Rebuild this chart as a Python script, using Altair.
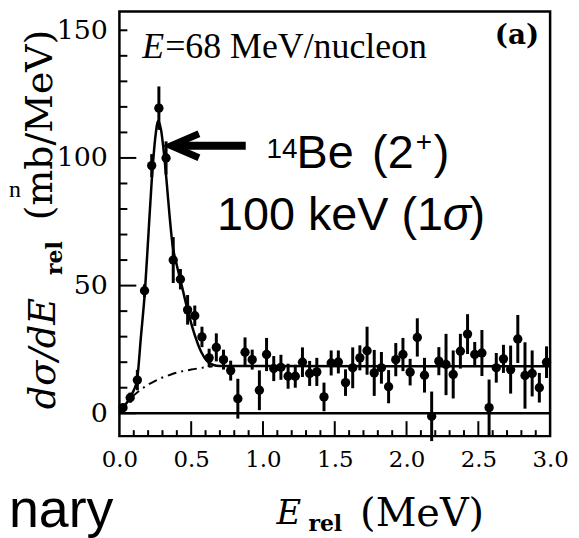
import altair as alt
import pandas as pd

# ---------------- data ----------------
E_pts = [0.025, 0.075, 0.125, 0.175, 0.225, 0.275, 0.325, 0.375, 0.425, 0.475,
         0.525, 0.575, 0.625, 0.675, 0.725, 0.775, 0.825, 0.875, 0.925, 0.975,
         1.025, 1.075, 1.125, 1.175, 1.225, 1.275, 1.325, 1.375, 1.425, 1.475,
         1.525, 1.575, 1.625, 1.675, 1.725, 1.775, 1.825, 1.875, 1.925, 1.975,
         2.025, 2.075, 2.125, 2.175, 2.225, 2.275, 2.325, 2.375, 2.425, 2.475,
         2.525, 2.575, 2.625, 2.675, 2.725, 2.775, 2.825, 2.875, 2.925, 2.975]
v_pts = [2.2, 6.1, 13.0, 48.0, 97.0, 119.5, 100.0, 60.0, 52.5, 40.5,
         38.2, 29.9, 21.7, 25.8, 21.0, 16.7, 5.7, 23.9, 21.0, 9.0,
         23.0, 17.5, 18.0, 14.5, 14.5, 20.0, 15.6, 16.2, 6.4, 19.7,
         20.1, 12.0, 17.8, 21.7, 24.5, 15.8, 17.8, 10.4, 21.0, 23.0,
         16.1, 29.7, 14.9, -1.2, 20.4, 19.1, 15.2, 24.3, 31.0, 23.0,
         23.6, 2.2, 17.8, 21.3, 17.1, 29.1, 14.8, 15.6, 10.0, 20.0]
err = [1.5, 2.0, 4.0, 2.5, 4.5, 8.5, 6.5, 9.0, 4.0, 5.8,
       4.0, 4.0, 3.6, 5.5, 3.9, 3.9, 7.8, 5.8, 3.9, 7.8,
       6.5, 4.9, 4.9, 4.9, 4.5, 5.8, 4.9, 5.5, 5.6, 4.9,
       4.5, 5.2, 8.0, 4.9, 9.4, 9.0, 6.2, 6.5, 6.5, 6.5,
       5.2, 7.5, 6.8, 9.7, 5.5, 12.0, 9.4, 6.8, 7.8, 4.9,
       9.0, 11.0, 5.8, 5.5, 9.4, 9.4, 13.0, 9.0, 5.8, 6.2]

fit_E = [0.0, 0.05, 0.10, 0.123, 0.15, 0.178, 0.20, 0.225, 0.25, 0.27, 0.29,
         0.31, 0.33, 0.35, 0.37, 0.40, 0.43, 0.475, 0.52, 0.57, 0.61, 0.65,
         0.70, 3.0]
fit_v = [0.5, 4.0, 9.0, 13.0, 30.0, 48.0, 68.0, 91.0, 108.0, 114.5, 111.0,
         102.0, 90.0, 77.0, 66.0, 58.0, 51.0, 40.5, 31.5, 24.0, 20.5, 19.0,
         18.5, 18.4]

bg_E = [0.0, 0.05, 0.10, 0.15, 0.20, 0.25, 0.30, 0.35, 0.40, 0.50, 0.60, 0.65]
bg_v = [0.0, 4.0, 7.0, 9.3, 11.2, 12.7, 14.0, 15.0, 15.9, 17.1, 18.0, 18.4]

x_labels = [0.0, 0.5, 1.0, 1.5, 2.0, 2.5, 3.0]
y_labels = [0, 50, 100, 150]
x_major = [0.5, 1.0, 1.5, 2.0, 2.5]
x_minor = [0.1, 0.2, 0.3, 0.4, 0.6, 0.7, 0.8, 0.9, 1.1, 1.2, 1.3, 1.4, 1.6, 1.7,
           1.8, 1.9, 2.1, 2.2, 2.3, 2.4, 2.6, 2.7, 2.8, 2.9]
y_major = [0, 50, 100]
y_minor = [10, 20, 30, 40, 60, 70, 80, 90, 110, 120, 130, 140, 150]

# arrow (data coordinates) pointing at the peak
arrow_shaft_E = [0.40, 0.88]
arrow_v = 104.8
chev_E = [0.554, 0.36, 0.554]
chev_v = [109.5, 104.8, 100.1]

# ---------------- chart ----------------
W, H = 433, 427
xscale = alt.Scale(domain=[0, 3.0], nice=False, zero=False)
yscale = alt.Scale(domain=[-8.96, 157.4], nice=False, zero=False)
xaxis = alt.Axis(values=x_labels, format=".1f", labelFont="DejaVu Serif",
                 labelFontSize=23, labelColor="black", labelPadding=13,
                 ticks=False, domain=False, grid=False, labelFlush=False,
                 labelOverlap=False, labelBound=False, title=None)
yaxis = alt.Axis(values=y_labels, format="d", labelFont="DejaVu Serif",
                 labelFontSize=27, labelColor="black", labelPadding=12,
                 ticks=False, domain=False, grid=False, labelFlush=False,
                 labelOverlap=False, labelBound=False, title=None)


def X(f):
    return alt.X(f, type="quantitative", scale=xscale, axis=xaxis, title=None)


def Y(f):
    return alt.Y(f, type="quantitative", scale=yscale, axis=yaxis, title=None)


pts = pd.DataFrame({"E": E_pts, "v": v_pts, "e": err})
pts["lo"] = pts["v"] - pts["e"]
pts["hi"] = pts["v"] + pts["e"]

errbars = alt.Chart(pts).mark_rule(color="black", strokeWidth=3).encode(
    x=X("E"), y=Y("lo"), y2="hi")
points = alt.Chart(pts).mark_circle(color="black", size=88, opacity=1).encode(
    x=X("E"), y=Y("v"))

fit = alt.Chart(pd.DataFrame({"E": fit_E, "v": fit_v})).mark_line(
    color="black", strokeWidth=2.5, interpolate="monotone").encode(x=X("E"), y=Y("v"))
bg = alt.Chart(pd.DataFrame({"E": bg_E, "v": bg_v})).mark_line(
    color="black", strokeWidth=2, strokeDash=[9, 5, 2, 5],
    interpolate="monotone").encode(x=X("E"), y=Y("v"))

zero = alt.Chart(pd.DataFrame({"E": [0.0], "E2": [3.0], "v": [0]})).mark_rule(
    color="black", strokeWidth=2.5).encode(x=X("E"), x2="E2", y=Y("v"))

xt_major = alt.Chart(pd.DataFrame({"E": x_major})).mark_rule(
    color="black", strokeWidth=2).encode(x=X("E"), y=alt.value(H), y2=alt.value(H - 15))
xt_minor = alt.Chart(pd.DataFrame({"E": x_minor})).mark_rule(
    color="black", strokeWidth=2).encode(x=X("E"), y=alt.value(H), y2=alt.value(H - 6))
yt_major = alt.Chart(pd.DataFrame({"v": y_major})).mark_rule(
    color="black", strokeWidth=2).encode(y=Y("v"), x=alt.value(0), x2=alt.value(17))
yt_minor = alt.Chart(pd.DataFrame({"v": y_minor})).mark_rule(
    color="black", strokeWidth=2).encode(y=Y("v"), x=alt.value(0), x2=alt.value(8))

shaft = alt.Chart(pd.DataFrame({"E": [arrow_shaft_E[0]], "E2": [arrow_shaft_E[1]],
                                "v": [arrow_v]})).mark_rule(
    color="black", strokeWidth=8).encode(x=X("E"), x2="E2", y=Y("v"))
chev = alt.Chart(pd.DataFrame({"E": chev_E, "v": chev_v, "o": [0, 1, 2]})).mark_line(
    color="black", strokeWidth=7, strokeJoin="miter", strokeMiterLimit=10).encode(
    x=X("E"), y=Y("v"), order="o:Q")


def txt(s, x, y, font, size, style="normal", weight="normal", align="left",
        angle=0, baseline="alphabetic"):
    kw = dict(font=font, fontSize=size, fontStyle=style, fontWeight=weight,
              align=align, baseline=baseline, color="black")
    if angle:
        kw["angle"] = angle
    return alt.Chart(pd.DataFrame({"t": [s]})).mark_text(**kw).encode(
        text="t:N", x=alt.value(x), y=alt.value(y))


texts = [
    txt("E", 23, 47, "Liberation Serif", 36, style="italic"),
    txt("=68 MeV/nucleon", 46, 47, "Liberation Serif", 36),
    txt("(a)", 422, 33, "DejaVu Serif", 28, weight="bold", align="right"),
    txt("14", 148, 147, "Liberation Sans", 28),
    txt("Be", 178, 157, "Liberation Sans", 47),
    txt("(2", 254, 157, "Liberation Sans", 47),
    txt("+", 298, 140, "Liberation Sans", 28),
    txt(")", 316, 157, "Liberation Sans", 47),
    txt("100 keV (1", 98, 220, "Liberation Sans", 47),
    txt("σ", 325, 220, "Liberation Sans", 47, style="italic"),
    txt(")", 352, 220, "Liberation Sans", 47),
    # y title
    txt("dσ/dE", -65, 400, "DejaVu Serif", 37, style="italic", angle=270),
    txt("rel", -58, 265, "DejaVu Serif", 22, weight="bold", angle=270),
    txt("(mb/MeV)", -68, 210, "DejaVu Serif", 38, angle=270),
    # x title
    txt("E", 158, 515, "DejaVu Serif", 34, style="italic"),
    txt("rel", 190, 522, "DejaVu Serif", 22, weight="bold"),
    txt("(MeV)", 242, 517, "DejaVu Serif", 40),
    # cropped fragments at the left edge
    txt("nary", -111, 518, "Liberation Sans", 54),
    txt("n", -111, 187, "Liberation Serif", 24),
]

chart = alt.layer(
    zero, xt_major, xt_minor, yt_major, yt_minor, bg, fit, errbars, points,
    shaft, chev, *texts
).properties(
    width=W, height=H,
    autosize=alt.AutoSizeParams(type="none"),
    padding={"left": 112, "top": 2, "right": 21, "bottom": 101},
    background="white",
).configure_view(stroke="black", strokeWidth=2.5)

chart.save("out.html", embed_options={"renderer": "svg", "actions": False})
